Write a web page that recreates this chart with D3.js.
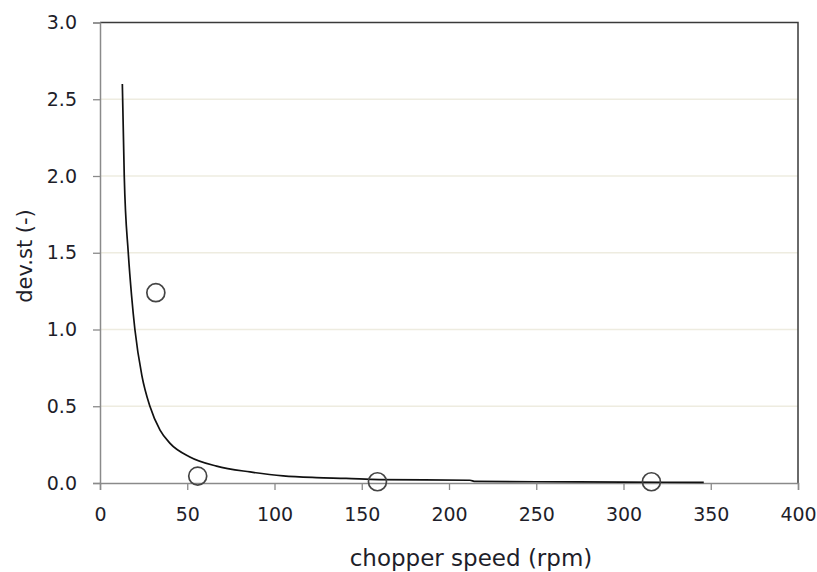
<!DOCTYPE html>
<html lang="en">
    <head>
        <meta charset="utf-8">
        <title>dev.st vs chopper speed</title>
        <script src="https://d3js.org/d3.v7.min.js"></script>
        <style type="text/css">
            html, body {
                margin: 0;
                background-color: white;
            }
            .tick text, .title {
                font-family: "DejaVu Sans", Verdana, sans-serif;
                fill: #1e1e2a;
            }
        </style>
    </head>
    <body>
        <script type="text/javascript">
            // measured points
            const speed = [32, 56, 159, 316];
            const devst = [1.24, 0.045, 0.008, 0.008];

            // trend curve
            const curveX = [12.8, 13.9, 16.2, 18.1, 20, 24, 28.6, 34.4, 40, 51.5, 66.8, 86, 105, 124, 141, 160, 212, 215, 250, 300, 346];
            const curveY = [2.6, 2.0, 1.5, 1.22, 1.0, 0.7, 0.5, 0.345, 0.26, 0.17, 0.11, 0.072, 0.046, 0.035, 0.03, 0.022, 0.018, 0.01, 0.008, 0.006, 0.004];

            const xTicks = [0, 50, 100, 150, 200, 250, 300, 350, 400];
            const yTicks = [0, 0.5, 1.0, 1.5, 2.0, 2.5, 3.0];

            const w = 817, h = 572;
            const mLeft = 100, mRight = 798, mTop = 22.5, mBottom = 483;

            const x = d3.scaleLinear().domain([0, 400]).range([mLeft, mRight]);
            const y = d3.scaleLinear().domain([0, 3]).range([mBottom, mTop]);

            const svg = d3.select("body").append("svg")
                          .attr("width", w)
                          .attr("height", h);

            // gridlines
            svg.append("g")
               .selectAll("line")
               .data(yTicks.filter(d => d > 0 && d < 3))
               .enter()
               .append("line")
               .attr("x1", mLeft).attr("x2", mRight)
               .attr("y1", d => y(d)).attr("y2", d => y(d))
               .attr("stroke", "#eeece0")
               .attr("stroke-width", 1.3);

            // top and right border
            svg.append("path")
               .attr("d", `M${mLeft},${mTop}H${mRight}V${mBottom}`)
               .attr("fill", "none")
               .attr("stroke", "#3a3a3a")
               .attr("stroke-width", 1.5);

            const xAxis = svg.append("g")
               .attr("transform", `translate(0,${mBottom})`)
               .call(d3.axisBottom(x).tickValues(xTicks).tickSize(7).tickPadding(18).tickFormat(d3.format("d")));

            const yAxis = svg.append("g")
               .attr("transform", `translate(${mLeft},0)`)
               .call(d3.axisLeft(y).tickValues(yTicks).tickSize(7).tickPadding(16).tickFormat(d3.format(".1f")));

            [xAxis, yAxis].forEach(a => {
                a.select(".domain").attr("stroke", "#8a8a8a").attr("stroke-width", 1.5);
                a.selectAll(".tick line").attr("stroke", "#8a8a8a").attr("stroke-width", 1.3);
                a.selectAll(".tick text").attr("font-size", 19);
            });

            // trend curve
            const curve = d3.line()
                            .x((d, i) => x(curveX[i]))
                            .y(d => y(d))
                            .curve(d3.curveMonotoneX);

            svg.append("path")
               .datum(curveY)
               .attr("d", curve)
               .attr("fill", "none")
               .attr("stroke", "#111")
               .attr("stroke-width", 1.7);

            // data markers
            svg.append("g")
               .selectAll("circle")
               .data(speed)
               .enter()
               .append("circle")
               .attr("cx", d => x(d))
               .attr("cy", (d, i) => y(devst[i]))
               .attr("r", 9)
               .attr("fill", "none")
               .attr("stroke", "#444")
               .attr("stroke-width", 1.7);

            // axis titles
            svg.append("text")
               .attr("class", "title")
               .attr("x", 471)
               .attr("y", 566)
               .attr("text-anchor", "middle")
               .attr("font-size", 23)
               .text("chopper speed (rpm)");

            svg.append("text")
               .attr("class", "title")
               .attr("transform", "translate(32,256) rotate(-90)")
               .attr("text-anchor", "middle")
               .attr("font-size", 21)
               .text("dev.st (-)");
        </script>
    </body>
</html>
